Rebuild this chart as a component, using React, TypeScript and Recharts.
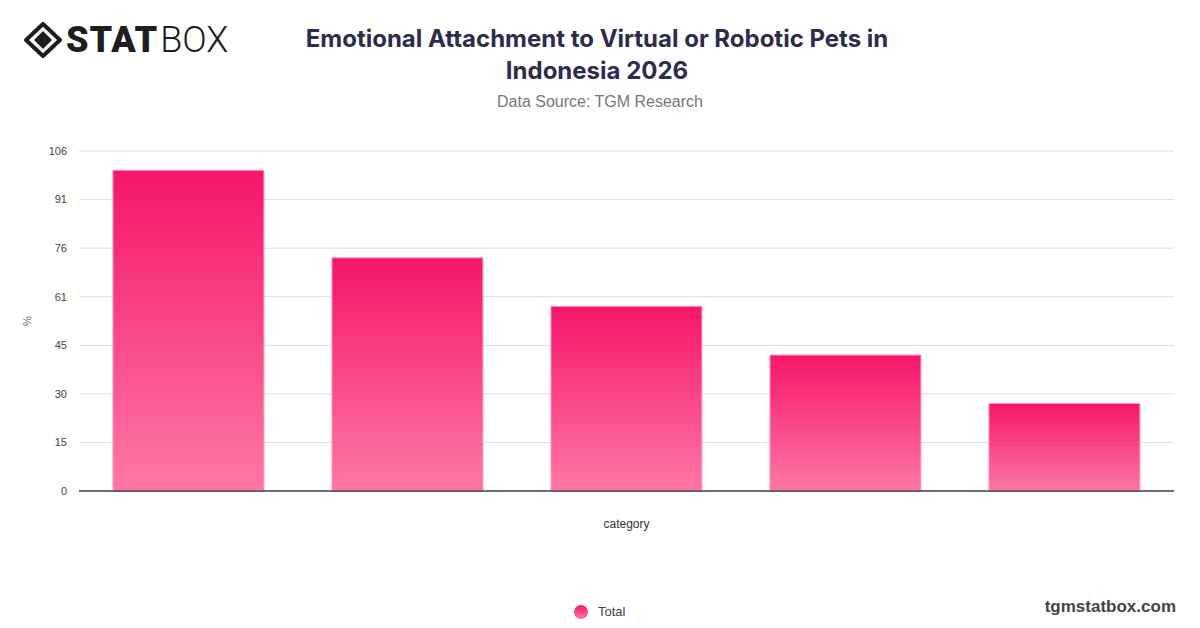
import React from 'react';
import { BarChart, Bar, XAxis, YAxis, CartesianGrid, Label } from 'recharts';

// values
const categories = ['', ' ', '  ', '   ', '    '];
const totalValues = [100, 72.7, 57.6, 42.4, 27.3];
const yMax = 106;
const yTicks = [0, 1, 2, 3, 4, 5, 6, 7].map((k) => (yMax * k) / 7);
const seriesName = 'Total';

const chartData = categories.map((c, i) => ({ category: c, Total: totalValues[i] }));

const Logo = () => (
  <div style={{ position: 'absolute', left: 24, top: 22, display: 'flex', alignItems: 'center' }}>
    <svg width="38" height="36" viewBox="0 0 38 36">
      <path d="M19 2 L36 18 L19 34 L2 18 Z" fill="none" stroke="#1e1e1e" strokeWidth="4" strokeLinejoin="round" />
      <path d="M19 9 L28 18 L19 27 L10 18 Z" fill="#1e1e1e" />
    </svg>
    <span style={{ fontFamily: 'Roboto, "DejaVu Sans", sans-serif', fontWeight: 900, fontSize: 36, color: '#1e1e1e', marginLeft: 4, letterSpacing: 1, lineHeight: 1 }}>
      STAT
    </span>
    <span style={{ fontFamily: 'Roboto, "DejaVu Sans", sans-serif', fontWeight: 300, fontSize: 36, color: '#1e1e1e', marginLeft: 2, lineHeight: 1 }}>
      BOX
    </span>
  </div>
);

export default function App() {
  return (
    <div style={{ position: 'fixed', left: 0, top: 0, width: 1200, height: 628, background: '#fff', overflow: 'hidden' }}>
      <Logo />
      <div
        style={{
          position: 'absolute',
          left: 297,
          width: 600,
          top: 23,
          textAlign: 'center',
          fontFamily: 'Inter, "Noto Sans", sans-serif',
          fontWeight: 700,
          fontSize: 24,
          lineHeight: '32px',
          color: '#2e2b4b',
        }}
      >
        Emotional Attachment to Virtual or Robotic Pets in Indonesia 2026
      </div>
      <div
        style={{
          position: 'absolute',
          left: 0,
          width: 1200,
          top: 93,
          textAlign: 'center',
          fontFamily: '"Liberation Sans", Arial, sans-serif',
          fontSize: 16,
          color: '#777',
        }}
      >
        Data Source: TGM Research
      </div>

      <div style={{ position: 'absolute', left: 0, top: 0 }}>
        <BarChart
          width={1200}
          height={628}
          data={chartData}
          margin={{ top: 151, right: 26, left: 19, bottom: 92 }}
          barCategoryGap="15.5%"
        >
          <defs>
            <linearGradient id="pinkGrad" x1="0" y1="0" x2="0" y2="1">
              <stop offset="0%" stopColor="#f5166a" />
              <stop offset="100%" stopColor="#fd78a6" />
            </linearGradient>
          </defs>
          <CartesianGrid stroke="#dddddd" vertical={false} />
          <XAxis
            dataKey="category"
            tick={false}
            tickLine={false}
            axisLine={{ stroke: '#444', strokeWidth: 1.5 }}
            height={45}
          >
            <Label
              value="category"
              position="insideBottom"
              offset={8}
              style={{ fontFamily: '"Liberation Sans", Arial, sans-serif', fontSize: 12, fill: '#333' }}
            />
          </XAxis>
          <YAxis
            domain={[0, yMax]}
            ticks={yTicks}
            interval={0}
            tickFormatter={(v: number) => String(Math.round(v))}
            axisLine={false}
            tickLine={false}
            tickMargin={6}
            width={60}
            tick={{ fontFamily: '"Liberation Sans", Arial, sans-serif', fontSize: 11, fill: '#444' }}
          >
            <Label
              value="%"
              angle={-90}
              position="insideLeft"
              offset={8}
              style={{ fontFamily: '"Liberation Sans", Arial, sans-serif', fontSize: 11, fill: '#666', textAnchor: 'middle' }}
            />
          </YAxis>
          <Bar
            dataKey="Total"
            name={seriesName}
            fill="url(#pinkGrad)"
            stroke="#ff9cc4"
            strokeWidth={1}
            isAnimationActive={false}
          />
        </BarChart>
      </div>

      <div
        style={{
          position: 'absolute',
          left: 574,
          top: 604,
          display: 'flex',
          alignItems: 'center',
          fontFamily: '"Liberation Sans", Arial, sans-serif',
          fontSize: 13,
          color: '#444',
        }}
      >
        <span
          style={{
            display: 'inline-block',
            width: 14,
            height: 14,
            borderRadius: '50%',
            background: 'linear-gradient(#f5166a, #fd78a6)',
            marginRight: 10,
          }}
        />
        {seriesName}
      </div>

      <div
        style={{
          position: 'absolute',
          right: 24,
          top: 597,
          fontFamily: '"Liberation Sans", Arial, sans-serif',
          fontWeight: 700,
          fontSize: 17,
          color: '#444',
        }}
      >
        tgmstatbox.com
      </div>
    </div>
  );
}
